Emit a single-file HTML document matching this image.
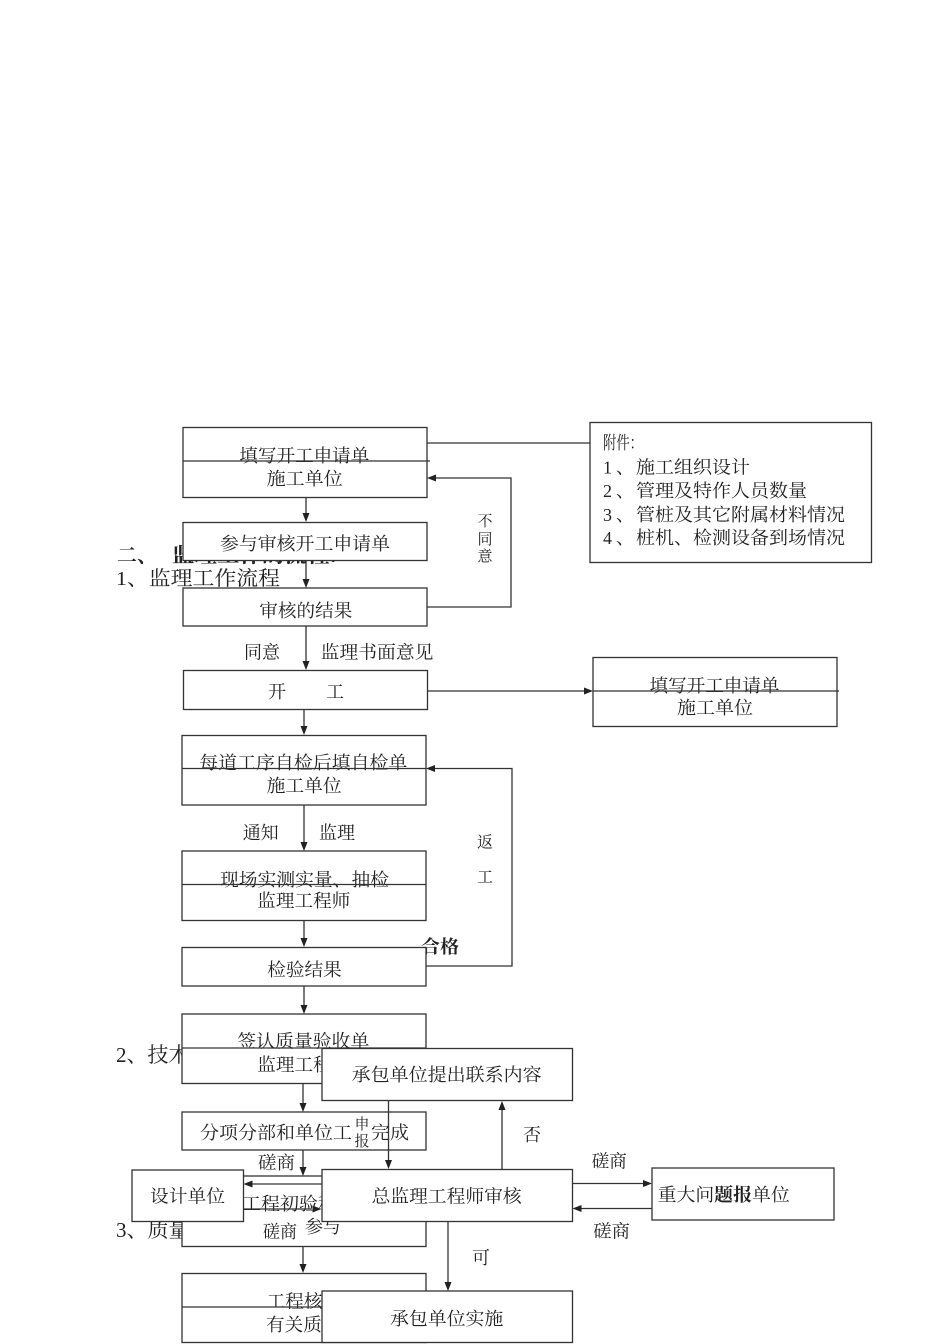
<!DOCTYPE html>
<html><head><meta charset="utf-8"><style>
html,body{margin:0;padding:0;background:#fff;}
svg{display:block;}
text{font-family:"Liberation Serif","Noto Serif CJK SC",serif;fill:#222;font-size:18px;dominant-baseline:central;}
.b{font-weight:bold;}
rect.bx{fill:#fff;stroke:#333;stroke-width:1.3;}
line,polyline{stroke:#333;stroke-width:1.3;fill:none;}
polygon{fill:#222;stroke:none;}
</style></head><body>
<svg width="950" height="1344" viewBox="0 0 950 1344" xmlns="http://www.w3.org/2000/svg">

<!-- headings -->
<text x="117" y="556" class="b" style="font-size:20px">二、</text>
<text x="172" y="556" class="b" style="font-size:20px" textLength="165" lengthAdjust="spacingAndGlyphs">监理工作的流程:</text>
<text x="116" y="579" style="font-size:20px" textLength="164" lengthAdjust="spacingAndGlyphs">1、监理工作流程</text>

<!-- box1 -->
<rect class="bx" x="183" y="427.5" width="244" height="70"/>
<text x="239.3" y="456" textLength="130" lengthAdjust="spacingAndGlyphs">填写开工申请单</text>
<line x1="183" y1="461" x2="430" y2="461"/>
<text x="266.7" y="479" textLength="76" lengthAdjust="spacingAndGlyphs">施工单位</text>

<!-- link to attachment -->
<line x1="427" y1="443" x2="590" y2="443"/>
<rect class="bx" x="590" y="422.5" width="281.5" height="140"/>
<text x="603" y="443" textLength="40" lengthAdjust="spacingAndGlyphs">附件：</text>
<text x="603" y="467.5">1</text><text x="616" y="467.5">、</text>
<text x="636" y="467.5" textLength="114" lengthAdjust="spacingAndGlyphs">施工组织设计</text>
<text x="603" y="491">2</text><text x="616" y="491">、</text>
<text x="636" y="491" textLength="171" lengthAdjust="spacingAndGlyphs">管理及特作人员数量</text>
<text x="603" y="515">3</text><text x="616" y="515">、</text>
<text x="636" y="515" textLength="209" lengthAdjust="spacingAndGlyphs">管桩及其它附属材料情况</text>
<text x="603" y="538">4</text><text x="616" y="538">、</text>
<text x="636" y="538" textLength="209" lengthAdjust="spacingAndGlyphs">桩机、检测设备到场情况</text>

<!-- box1 -> box2 -->
<line x1="306" y1="497.5" x2="306" y2="516"/>
<polygon points="302.5,513 309.5,513 306,522"/>

<rect class="bx" x="183" y="522.5" width="244" height="38"/>
<text x="220" y="544" textLength="170" lengthAdjust="spacingAndGlyphs">参与审核开工申请单</text>

<line x1="306" y1="560.5" x2="306" y2="582"/>
<polygon points="302.5,579 309.5,579 306,588"/>

<rect class="bx" x="183" y="588" width="244" height="38"/>
<text x="259.3" y="611" textLength="93" lengthAdjust="spacingAndGlyphs">审核的结果</text>

<!-- feedback 不同意 -->
<polyline points="427,607 511,607 511,478 436,478"/>
<polygon points="427,478 436,474.5 436,481.5"/>
<text x="485" y="522" text-anchor="middle" style="font-size:15px">不</text>
<text x="485" y="540" text-anchor="middle" style="font-size:15px">同</text>
<text x="485" y="557" text-anchor="middle" style="font-size:15px">意</text>

<!-- to 开工 -->
<line x1="306" y1="626" x2="306" y2="664"/>
<polygon points="302.5,661 309.5,661 306,670"/>
<text x="244" y="652.5" textLength="36" lengthAdjust="spacingAndGlyphs">同意</text>
<text x="320.7" y="652.5" textLength="112.7" lengthAdjust="spacingAndGlyphs">监理书面意见</text>

<rect class="bx" x="183.5" y="670.5" width="244" height="39"/>
<text x="268" y="692">开</text>
<text x="326" y="692">工</text>

<line x1="427.5" y1="691" x2="584" y2="691"/>
<polygon points="593,691 584,687.5 584,694.5"/>
<rect class="bx" x="593" y="657.5" width="244" height="69"/>
<text x="649.5" y="686" textLength="130" lengthAdjust="spacingAndGlyphs">填写开工申请单</text>
<line x1="593" y1="691" x2="839" y2="691"/>
<text x="677" y="708" textLength="76" lengthAdjust="spacingAndGlyphs">施工单位</text>

<!-- 开工 -> 每道 -->
<line x1="304" y1="709.5" x2="304" y2="729"/>
<polygon points="300.5,726 307.5,726 304,735"/>

<rect class="bx" x="182" y="735.5" width="244" height="69.5"/>
<text x="199.3" y="763" textLength="208" lengthAdjust="spacingAndGlyphs">每道工序自检后填自检单</text>
<line x1="182" y1="768.5" x2="426" y2="768.5"/>
<text x="266.7" y="786" textLength="75" lengthAdjust="spacingAndGlyphs">施工单位</text>

<!-- 每道 -> 现场 -->
<line x1="304" y1="805" x2="304" y2="845"/>
<polygon points="300.5,842 307.5,842 304,851"/>
<text x="242.7" y="833" textLength="36" lengthAdjust="spacingAndGlyphs">通知</text>
<text x="319" y="833" textLength="36" lengthAdjust="spacingAndGlyphs">监理</text>

<rect class="bx" x="182" y="851" width="244" height="69.5"/>
<text x="220" y="880" textLength="169" lengthAdjust="spacingAndGlyphs">现场实测实量、抽检</text>
<line x1="182" y1="884.5" x2="426" y2="884.5"/>
<text x="257.3" y="901" textLength="93" lengthAdjust="spacingAndGlyphs">监理工程师</text>

<!-- feedback 返工 -->
<polyline points="426,966 512,966 512,768.5 435,768.5"/>
<polygon points="426,768.5 435,765 435,772"/>
<text x="485" y="843" text-anchor="middle" style="font-size:16px">返</text>
<text x="485" y="878" text-anchor="middle" style="font-size:16px">工</text>
<text x="421" y="947" class="b" textLength="38" lengthAdjust="spacingAndGlyphs">合格</text>

<line x1="304" y1="920.5" x2="304" y2="941"/>
<polygon points="300.5,938 307.5,938 304,947"/>

<rect class="bx" x="182" y="947.5" width="244" height="38.5"/>
<text x="267.3" y="970" textLength="74.4" lengthAdjust="spacingAndGlyphs">检验结果</text>

<line x1="304" y1="986" x2="304" y2="1008"/>
<polygon points="300.5,1005 307.5,1005 304,1014"/>

<!-- section 2 -->
<text x="116" y="1055" style="font-size:21px">2、技术核定流程</text>
<rect class="bx" x="182" y="1014" width="244" height="69.5"/>
<text x="237.3" y="1041.7" textLength="132" lengthAdjust="spacingAndGlyphs">签认质量验收单</text>
<line x1="182" y1="1048" x2="426" y2="1048"/>
<text x="257.3" y="1065" textLength="93" lengthAdjust="spacingAndGlyphs">监理工程师</text>

<rect class="bx" x="322" y="1048.5" width="250.5" height="52"/>
<text x="351.7" y="1075" textLength="190" lengthAdjust="spacingAndGlyphs">承包单位提出联系内容</text>

<line x1="303" y1="1083.5" x2="303" y2="1106"/>
<polygon points="299.5,1103 306.5,1103 303,1112"/>

<rect class="bx" x="182" y="1112" width="244" height="38"/>
<text x="200" y="1133" textLength="209" lengthAdjust="spacingAndGlyphs">分项分部和单位工程完成</text>
<rect x="353" y="1116" width="19" height="33" fill="#fff"/>
<text x="362" y="1125" text-anchor="middle" style="font-size:15px">申</text>
<text x="362" y="1142" text-anchor="middle" style="font-size:15px">报</text>

<line x1="303" y1="1150" x2="303" y2="1170"/>
<polygon points="299.5,1167 306.5,1167 303,1176"/>
<text x="258" y="1163" textLength="37" lengthAdjust="spacingAndGlyphs">磋商</text>

<!-- vertical links -->
<line x1="388.5" y1="1100.5" x2="388.5" y2="1160"/>
<polygon points="385,1160 392,1160 388.5,1169"/>
<line x1="502" y1="1169" x2="502" y2="1110"/>
<polygon points="498.5,1110 505.5,1110 502,1101"/>
<text x="532" y="1135" text-anchor="middle">否</text>

<!-- section 3 -->
<text x="116" y="1230" style="font-size:21px">3、质量验收流程</text>
<rect class="bx" x="182" y="1176" width="244" height="70.5"/>
<text x="204" y="1204" textLength="171" lengthAdjust="spacingAndGlyphs">组织工程初验和竣工</text>
<text x="263" y="1232" textLength="34" lengthAdjust="spacingAndGlyphs">磋商</text>
<text x="305" y="1227" textLength="36" lengthAdjust="spacingAndGlyphs">参与</text>

<rect class="bx" x="132" y="1170" width="111.5" height="51.5"/>
<text x="150" y="1196.7" textLength="75" lengthAdjust="spacingAndGlyphs">设计单位</text>

<rect class="bx" x="322" y="1169.5" width="250.5" height="52"/>
<text x="371.7" y="1196.7" textLength="150" lengthAdjust="spacingAndGlyphs">总监理工程师审核</text>

<line x1="322" y1="1184" x2="252" y2="1184"/>
<polygon points="243.5,1184 252.5,1180.5 252.5,1187.5"/>
<line x1="243.5" y1="1209" x2="312" y2="1209"/>
<polygon points="321.5,1209 312.5,1205.5 312.5,1212.5"/>

<line x1="572.5" y1="1183.5" x2="643" y2="1183.5"/>
<polygon points="652,1183.5 643,1180 643,1187"/>
<line x1="652" y1="1208.5" x2="581" y2="1208.5"/>
<polygon points="572.5,1208.5 581.5,1205 581.5,1212"/>
<text x="591.7" y="1161.7" textLength="35" lengthAdjust="spacingAndGlyphs">磋商</text>
<text x="593.3" y="1231.7" textLength="36.7" lengthAdjust="spacingAndGlyphs">磋商</text>

<rect class="bx" x="652" y="1168" width="182" height="52"/>
<text x="657.7" y="1195" textLength="132" lengthAdjust="spacingAndGlyphs">重大问<tspan class="b">题报</tspan>单位</text>

<line x1="448" y1="1221.5" x2="448" y2="1282"/>
<polygon points="444.5,1282 451.5,1282 448,1291"/>
<text x="481" y="1258" text-anchor="middle">可</text>

<line x1="303" y1="1246.5" x2="303" y2="1267"/>
<polygon points="299.5,1264 306.5,1264 303,1273"/>

<rect class="bx" x="182" y="1273.5" width="244" height="69"/>
<text x="266.7" y="1301.7" textLength="93" lengthAdjust="spacingAndGlyphs">工程核验签</text>
<line x1="182" y1="1307" x2="426" y2="1307"/>
<text x="266" y="1325" textLength="93" lengthAdjust="spacingAndGlyphs">有关质量资</text>

<rect class="bx" x="322" y="1291" width="250.5" height="51.5"/>
<text x="390" y="1319" textLength="113.3" lengthAdjust="spacingAndGlyphs">承包单位实施</text>

</svg>
</body></html>
